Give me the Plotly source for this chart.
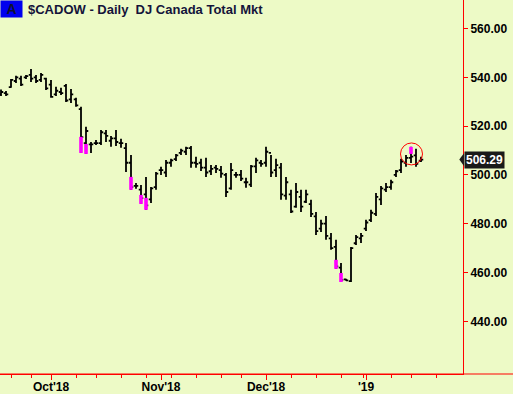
import plotly.graph_objects as go

# ---- data ----
opens = [533.0, 533.5, 536.0, 538.5, 539.5, 540.0, 541.0, 540.0, 539.0, 539.5,
         537.0, 533.0, 534.0, 536.5, 531.0, 531.0, 527.0, 513.0, 512.5, 513.0,
         513.0, 517.0, 514.0, 515.0, 513.0, 511.0, 505.0, 495.5, 494.0, 492.0,
         490.0, 495.0, 502.0, 501.0, 505.0, 506.5, 509.0, 509.5, 511.0, 505.0,
         505.0, 503.0, 501.5, 503.0, 502.0, 500.0, 494.5, 500.0, 500.0, 497.0,
         496.0, 503.5, 505.0, 505.0, 509.0, 502.0, 503.0, 491.5, 492.0, 487.0,
         491.0, 489.0, 488.0, 483.0, 478.0, 480.0, 474.0, 470.5, 462.0, 457.2,
         456.5, 472.0, 474.0, 478.0, 481.5, 484.0, 490.0, 494.0, 495.0, 500.0,
         502.0, 505.0, 507.0, 508.0, 505.8]
highs = [535.0, 534.4, 539.3, 540.6, 540.6, 541.0, 543.4, 541.0, 541.8, 539.8,
         538.9, 536.1, 535.7, 537.3, 535.2, 531.6, 527.9, 519.7, 513.5, 514.3,
         518.4, 518.4, 516.0, 518.4, 514.8, 513.1, 508.2, 496.7, 495.9, 499.2,
         495.1, 501.2, 503.3, 506.1, 506.6, 508.6, 510.7, 511.5, 511.9, 507.4,
         506.6, 507.0, 504.1, 504.1, 503.7, 500.8, 504.9, 501.2, 502.0, 498.8,
         504.1, 507.0, 506.1, 511.5, 508.2, 506.6, 504.9, 499.2, 493.9, 496.7,
         493.9, 493.9, 489.8, 484.8, 481.6, 483.2, 476.2, 473.4, 463.9, 457.4,
         470.5, 475.4, 476.2, 481.6, 485.7, 492.6, 495.5, 496.7, 498.0, 502.0,
         506.6, 508.2, 511.5, 510.7, 507.4]
lows = [532.4, 532.4, 535.7, 537.7, 536.5, 539.3, 538.1, 537.7, 538.1, 534.8,
        531.6, 532.4, 532.8, 529.9, 529.5, 527.9, 509.0, 508.6, 509.0, 512.3,
        512.3, 513.5, 511.5, 511.9, 511.1, 501.2, 493.9, 494.3, 488.1, 485.7,
        488.5, 493.9, 500.0, 499.2, 503.3, 505.7, 508.2, 508.2, 502.9, 502.9,
        501.6, 499.2, 500.0, 500.8, 498.8, 491.0, 493.9, 498.8, 497.5, 494.7,
        495.1, 500.8, 503.3, 503.3, 499.2, 499.2, 489.8, 489.8, 484.4, 486.5,
        484.8, 488.5, 482.8, 475.4, 476.6, 473.4, 469.3, 461.5, 456.1, 456.6,
        456.1, 471.3, 472.1, 477.0, 480.7, 483.2, 487.7, 493.0, 493.9, 499.2,
        500.8, 503.3, 504.9, 503.3, 505.3]
closes = [534.0, 533.0, 539.0, 540.0, 537.0, 540.5, 539.5, 538.5, 541.0, 535.5,
          532.0, 534.5, 533.5, 530.5, 533.0, 528.5, 515.5, 518.0, 512.5, 513.0,
          517.5, 516.0, 515.0, 513.5, 513.0, 505.0, 495.0, 495.5, 490.5, 487.5,
          494.5, 500.5, 502.0, 505.0, 506.0, 508.0, 510.0, 511.0, 505.0, 504.5,
          503.0, 501.0, 502.5, 502.5, 500.5, 493.0, 502.0, 500.0, 498.5, 497.0,
          503.5, 506.0, 504.5, 509.5, 501.0, 504.0, 492.0, 497.0, 485.0, 493.0,
          487.0, 492.0, 484.0, 477.0, 480.0, 475.0, 470.0, 462.5, 457.0, 456.8,
          470.0, 474.5, 475.0, 480.5, 484.5, 491.0, 494.5, 495.0, 497.0, 501.5,
          505.5, 507.0, 507.5, 504.5, 506.29]

# highlighted (magenta) bar segments: bar index, segment low, segment high
mag_idx = [16, 17, 26, 28, 29, 67, 68, 82]
mag_lo = [509.0, 508.6, 493.9, 488.1, 485.7, 461.5, 456.1, 508.6]
mag_hi = [515.6, 512.7, 499.2, 491.8, 490.6, 465.2, 459.8, 511.5]

month_ticks = [10, 32, 53, 73]
month_labels = ["Oct'18", "Nov'18", "Dec'18", "'19"]
week_ticks = [2, 6, 15, 19, 24, 29, 34, 39, 44, 48, 58, 63, 68, 72.4, 78, 82, 87]
price_ticks = [440, 460, 480, 500, 520, 540, 560]
last_price = closes[-1]

title_text = "$CADOW - Daily  DJ Canada Total Mkt"

# ---- figure ----
x = list(range(len(closes)))
BG = "#EDFAC6"
RED = "#FF0000"

fig = go.Figure()
fig.add_trace(go.Ohlc(
    x=x, open=opens, high=highs, low=lows, close=closes,
    increasing=dict(line=dict(color="black", width=1.8)),
    decreasing=dict(line=dict(color="black", width=1.8)),
    tickwidth=0.45, showlegend=False, hoverinfo="skip",
))

seg_x, seg_y = [], []
for i, lo, hi in zip(mag_idx, mag_lo, mag_hi):
    seg_x += [i, i, None]
    seg_y += [lo, hi, None]
fig.add_trace(go.Scatter(
    x=seg_x, y=seg_y, mode="lines",
    line=dict(color="#FF00FF", width=3.6),
    showlegend=False, hoverinfo="skip",
))

fig.update_layout(
    width=513, height=394,
    margin=dict(l=0, r=50, t=0, b=20, autoexpand=False),
    paper_bgcolor=BG, plot_bgcolor=BG,
    showlegend=False,
    font=dict(family="Liberation Sans, Arial, sans-serif", color="black"),
    xaxis=dict(
        range=[-0.2, 92.4], rangeslider=dict(visible=False),
        showgrid=False, zeroline=False,
        showline=True, linecolor=RED, linewidth=1,
        ticks="outside", ticklen=5, tickcolor=RED, tickwidth=1,
        tickvals=month_ticks, ticktext=["<b>%s</b>" % t for t in month_labels],
        tickfont=dict(size=12, color="black"),
        ticklabelstandoff=-3,
        minor=dict(tickvals=week_ticks, ticks="outside", ticklen=3,
                   tickcolor=RED, tickwidth=1, showgrid=False),
    ),
    yaxis=dict(
        side="right", range=[418.4, 571.7],
        showgrid=False, zeroline=False,
        showline=True, linecolor=RED, linewidth=1,
        ticks="outside", ticklen=4, tickcolor=RED, tickwidth=1,
        tickvals=price_ticks, ticktext=["<b>%.2f</b>" % v for v in price_ticks],
        tickfont=dict(size=12, color="black"),
    ),
    shapes=[
        # bottom axis line continuing past the price axis
        dict(type="line", xref="paper", yref="paper", x0=0, x1=1.12, y0=0, y1=0,
             line=dict(color=RED, width=1)),
        # red circle round the recent high
        dict(type="circle", xref="x", yref="y", x0=79.9, x1=84.3, y0=504.1, y1=513.1,
             line=dict(color=RED, width=1)),
        # pointer of the last-price tag
        dict(type="path", xref="paper", yref="y",
             path="M 0.992,%f L 1.002,%f L 1.002,%f Z" % (last_price, last_price + 2.6, last_price - 2.6),
             fillcolor="#1a1a1a", line=dict(width=0)),
    ],
    annotations=[
        dict(text="<b>A</b>", xref="paper", yref="paper", x=0, y=1, xanchor="left", yanchor="top",
             showarrow=False, bgcolor="#0000EE", font=dict(size=14, color="#101030"),
             borderpad=2, width=17, height=12),
        dict(text="<b>%s</b>" % title_text, xref="paper", yref="paper", x=26 / 463, y=1 - 9.5 / 374,
             xanchor="left", yanchor="middle", showarrow=False,
             font=dict(size=13, color="#14143a")),
        dict(text="<b>%.2f</b>" % last_price, xref="paper", yref="y", x=1.002, y=last_price,
             xanchor="left", yanchor="middle", showarrow=False,
             bgcolor="#1a1a1a", font=dict(size=12, color="white"), borderpad=1),
    ],
)

fig.write_html("out.html", config={"displayModeBar": False},
               post_script="document.body.style.margin='0';document.body.style.overflow='hidden';")
